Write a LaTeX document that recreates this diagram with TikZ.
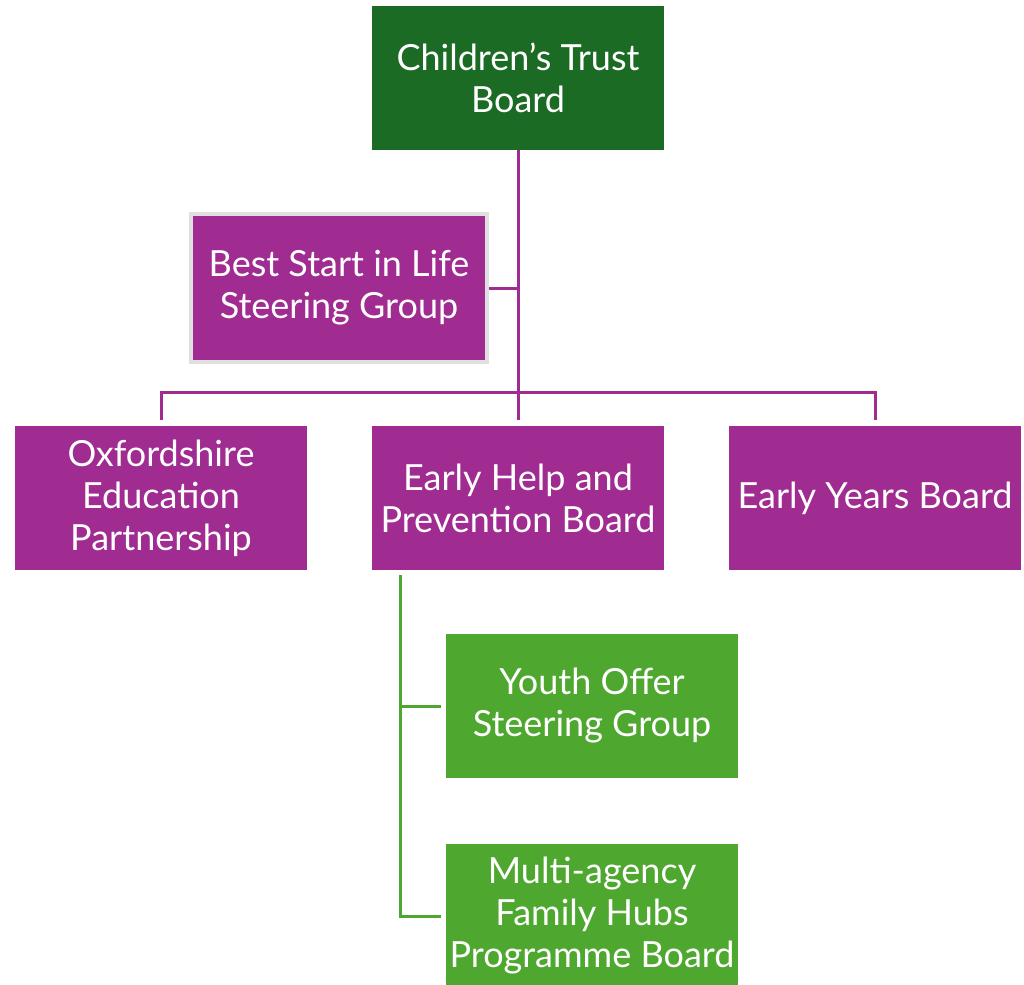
\documentclass[tikz,border=0pt]{standalone}
\usepackage{fontspec}
\setmainfont{Lato}
\definecolor{trustgreen}{RGB}{27,107,37}
\definecolor{boardpurple}{RGB}{160,43,145}
\definecolor{youthgreen}{RGB}{78,167,46}
\definecolor{edgegray}{RGB}{224,224,224}
\begin{document}
\begin{tikzpicture}[x=1pt,y=-1pt,
    board/.style={rectangle,fill=boardpurple,text=white,minimum width=292pt,minimum height=144pt,align=center,inner sep=0pt,font=\fontsize{36}{42}\selectfont},
    topboard/.style={board,fill=trustgreen},
    subgroup/.style={board,fill=youthgreen},
    purpleline/.style={draw=boardpurple,line width=3pt},
    greenline/.style={draw=youthgreen,line width=3pt}]
\useasboundingbox (0,0) rectangle (1024,984);
\node[topboard] (trust) at (518,78) {Children’s Trust\\Board};
\node[board,draw=edgegray,line width=4pt,minimum width=296pt,minimum height=148pt] (beststart) at (339,288) {Best Start in Life\\Steering Group};
\node[board] (oep) at (161,498) {Oxfordshire\\Education\\Partnership};
\node[board] (ehp) at (518,498) {Early Help and\\Prevention Board};
\node[board] (eyb) at (875,498) {Early Years Board};
\node[subgroup] (youth) at (592,706) {Youth Offer\\Steering Group};
\node[subgroup] (hubs) at (592,916) {Multi-agency\\Family Hubs\\Programme Board};
\coordinate (bar) at (518,392);
\coordinate (gtop) at (400,575);
% purple links
\draw[purpleline] (trust.south) -- ([yshift=6pt]ehp.north);
\draw[purpleline] (beststart.east) -- (beststart.east -| trust.south);
\draw[purpleline,shorten <=6pt,shorten >=6pt] (oep.north) -- (oep.north |- bar) -- (eyb.north |- bar) -- (eyb.north);
% green links
\draw[greenline,shorten >=5pt] (gtop) |- (youth.west);
\draw[greenline,shorten >=5pt] (gtop) |- (hubs.west);
\end{tikzpicture}
\end{document}
